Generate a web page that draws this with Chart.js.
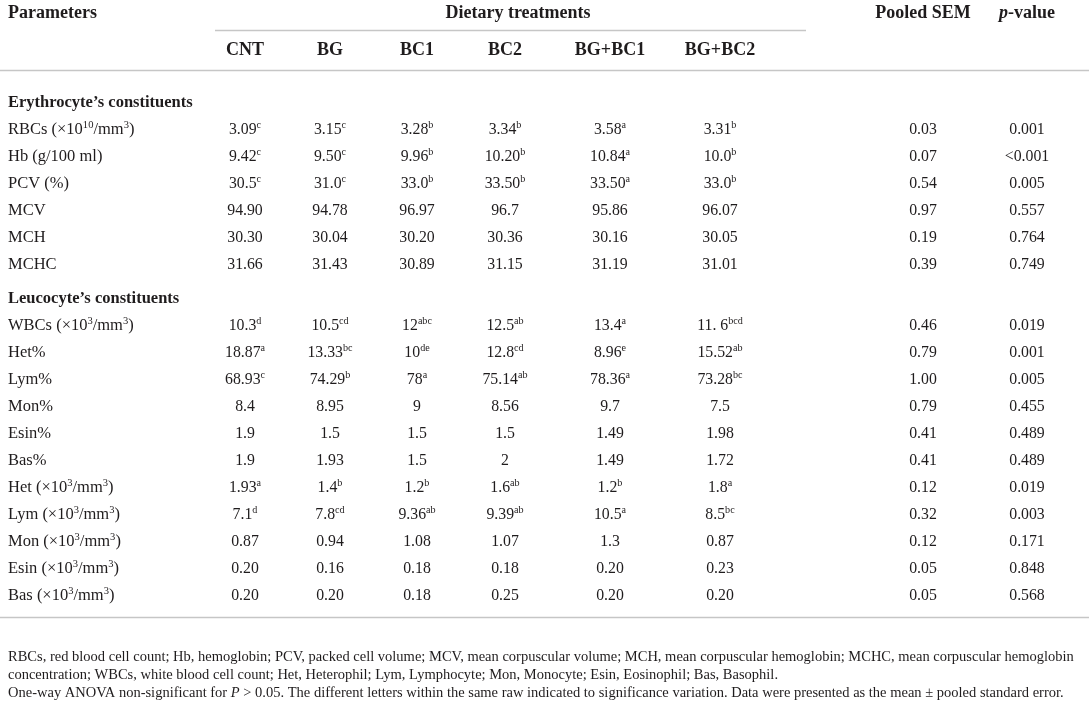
<!DOCTYPE html>
<html>
<head>
<meta charset="utf-8">
<script src="https://cdn.jsdelivr.net/npm/chart.js@4.4.1/dist/chart.umd.min.js"></script>
<style>
  html, body { margin: 0; padding: 0; background: #fff; }
  #wrap { width: 1089px; height: 710px; }
</style>
</head>
<body>
<div id="wrap"><canvas id="myChart" width="1089" height="710"></canvas></div>
<script>
// column headers of the table
const treatments = ["CNT", "BG", "BC1", "BC2", "BG+BC1", "BG+BC2"];
const sectionNames = ["Erythrocyte’s constituents", "Leucocyte’s constituents"];

// row labels (^{..} = superscript)
const erythrocyteParams = ["RBCs (×10^{10}/mm^{3})", "Hb (g/100 ml)", "PCV (%)", "MCV", "MCH", "MCHC"];
const leucocyteParams = [
  "WBCs (×10^{3}/mm^{3})", "Het%", "Lym%", "Mon%", "Esin%", "Bas%",
  "Het (×10^{3}/mm^{3})", "Lym (×10^{3}/mm^{3})", "Mon (×10^{3}/mm^{3})",
  "Esin (×10^{3}/mm^{3})", "Bas (×10^{3}/mm^{3})"
];

// values per treatment, same order as the rows above (erythrocyte rows then leucocyte rows)
const cntValues = ["3.09", "9.42", "30.5", "94.90", "30.30", "31.66", "10.3", "18.87", "68.93", "8.4", "1.9", "1.9", "1.93", "7.1", "0.87", "0.20", "0.20"];
const cntLetters = ["c", "c", "c", "", "", "", "d", "a", "c", "", "", "", "a", "d", "", "", ""];
const bgValues = ["3.15", "9.50", "31.0", "94.78", "30.04", "31.43", "10.5", "13.33", "74.29", "8.95", "1.5", "1.93", "1.4", "7.8", "0.94", "0.16", "0.20"];
const bgLetters = ["c", "c", "c", "", "", "", "cd", "bc", "b", "", "", "", "b", "cd", "", "", ""];
const bc1Values = ["3.28", "9.96", "33.0", "96.97", "30.20", "30.89", "12", "10", "78", "9", "1.5", "1.5", "1.2", "9.36", "1.08", "0.18", "0.18"];
const bc1Letters = ["b", "b", "b", "", "", "", "abc", "de", "a", "", "", "", "b", "ab", "", "", ""];
const bc2Values = ["3.34", "10.20", "33.50", "96.7", "30.36", "31.15", "12.5", "12.8", "75.14", "8.56", "1.5", "2", "1.6", "9.39", "1.07", "0.18", "0.25"];
const bc2Letters = ["b", "b", "b", "", "", "", "ab", "cd", "ab", "", "", "", "ab", "ab", "", "", ""];
const bgbc1Values = ["3.58", "10.84", "33.50", "95.86", "30.16", "31.19", "13.4", "8.96", "78.36", "9.7", "1.49", "1.49", "1.2", "10.5", "1.3", "0.20", "0.20"];
const bgbc1Letters = ["a", "a", "a", "", "", "", "a", "e", "a", "", "", "", "b", "a", "", "", ""];
const bgbc2Values = ["3.31", "10.0", "33.0", "96.07", "30.05", "31.01", "11. 6", "15.52", "73.28", "7.5", "1.98", "1.72", "1.8", "8.5", "0.87", "0.23", "0.20"];
const bgbc2Letters = ["b", "b", "b", "", "", "", "bcd", "ab", "bc", "", "", "", "a", "bc", "", "", ""];
const pooledSem = ["0.03", "0.07", "0.54", "0.97", "0.19", "0.39", "0.46", "0.79", "1.00", "0.79", "0.41", "0.41", "0.12", "0.32", "0.12", "0.05", "0.05"];
const pValues = ["0.001", "<0.001", "0.005", "0.557", "0.764", "0.749", "0.019", "0.001", "0.005", "0.455", "0.489", "0.489", "0.019", "0.003", "0.171", "0.848", "0.568"];

const footnotes = [
  "RBCs, red blood cell count; Hb, hemoglobin; PCV, packed cell volume; MCV, mean corpuscular volume; MCH, mean corpuscular hemoglobin; MCHC, mean corpuscular hemoglobin",
  "concentration; WBCs, white blood cell count; Het, Heterophil; Lym, Lymphocyte; Mon, Monocyte; Esin, Eosinophil; Bas, Basophil.",
  "One-way ANOVA non-significant for _{P} > 0.05. The different letters within the same raw indicated to significance variation. Data were presented as the mean ± pooled standard error."
];

// ---- layout (x in canvas px, y in row units) ----
const FONT = "'Liberation Serif', 'DejaVu Serif', serif";
const TEXT = "#1f1c1d";
const RULE = "#c6c6c6";
const labelX = 8;
const colX = [245, 330, 417, 505, 610, 720, 923, 1027];
const rowTop = 102, rowStep = 27;   // first body row and spacing in px
const sectionGap = 0.25;            // extra space before the second section
const headRow1 = -3.33, headRow2 = -1.96;
const subRuleY = -2.67, headRuleY = -1.19, footRuleY = 19.07;
const footRows = [20.52, 21.19, 21.86];
const headSize = 18, labelSize = 16.5, valueSize = 15.8;

// build body rows: section header then its parameters
const rows = [];
let pos = 0;
[erythrocyteParams, leucocyteParams].forEach((params, s) => {
  if (s > 0) pos += sectionGap;
  rows.push({ kind: "section", text: sectionNames[s], y: pos });
  pos += 1;
  params.forEach((p) => {
    rows.push({ kind: "param", text: p, y: pos });
    pos += 1;
  });
});
const paramRows = rows.filter((r) => r.kind === "param");

const valueCols = [
  [cntValues, cntLetters], [bgValues, bgLetters], [bc1Values, bc1Letters],
  [bc2Values, bc2Letters], [bgbc1Values, bgbc1Letters], [bgbc2Values, bgbc2Letters],
  [pooledSem, null], [pValues, null]
];

// parse "^{x}" (superscript) and "_{x}" (italic) markup
function parse(str) {
  const parts = [];
  const re = /([\^_])\{([^}]*)\}/g;
  let last = 0, m;
  while ((m = re.exec(str))) {
    if (m.index > last) parts.push({ t: str.slice(last, m.index) });
    parts.push(m[1] === "^" ? { t: m[2], sup: true } : { t: m[2], it: true });
    last = re.lastIndex;
  }
  if (last < str.length) parts.push({ t: str.slice(last) });
  return parts;
}

function fontFor(part, size, weight) {
  const s = part.sup ? size * 0.64 : size;
  return (part.it ? "italic " : "") + weight + " " + s + "px " + FONT;
}

function drawRich(ctx, str, x, y, align, size, weight) {
  const parts = parse(str);
  let w = 0;
  parts.forEach((p) => {
    ctx.font = fontFor(p, size, weight);
    p.w = ctx.measureText(p.t).width;
    w += p.w;
  });
  let cx = align === "center" ? x - w / 2 : x;
  ctx.textAlign = "left";
  ctx.textBaseline = "alphabetic";
  const base = y + size * 0.33;
  parts.forEach((p) => {
    ctx.font = fontFor(p, size, weight);
    ctx.fillText(p.t, cx, p.sup ? base - size * 0.4 : base);
    cx += p.w;
  });
}

// one invisible point dataset per column, the plugin writes the cell text at each point
const datasets = [];
datasets.push({
  label: "labels",
  data: rows.map((r) => ({ x: labelX, y: r.y })),
  cells: rows.map((r) => r.text),
  weights: rows.map((r) => (r.kind === "section" ? "bold" : "normal")),
  align: "left"
});
valueCols.forEach(([vals, letters], c) => {
  datasets.push({
    label: "col" + c,
    data: paramRows.map((r) => ({ x: colX[c], y: r.y })),
    cells: vals.map((v, i) => (letters && letters[i] ? v + "^{" + letters[i] + "}" : v)),
    align: "center"
  });
});

const tablePlugin = {
  id: "tableText",
  afterDatasetsDraw(chart) {
    const ctx = chart.ctx;
    const xs = chart.scales.x, ys = chart.scales.y;
    ctx.save();
    ctx.fillStyle = TEXT;

    // rules
    ctx.strokeStyle = RULE;
    ctx.lineWidth = 1.5;
    const rule = (x1, x2, yv) => {
      const py = Math.round(ys.getPixelForValue(yv)) + 0.5;
      ctx.beginPath();
      ctx.moveTo(xs.getPixelForValue(x1), py);
      ctx.lineTo(xs.getPixelForValue(x2), py);
      ctx.stroke();
    };
    rule(215, 806, subRuleY);
    rule(0, 1089, headRuleY);
    rule(0, 1089, footRuleY);

    // header
    const h1 = ys.getPixelForValue(headRow1), h2 = ys.getPixelForValue(headRow2);
    drawRich(ctx, "Parameters", xs.getPixelForValue(labelX), h1, "left", headSize, "bold");
    drawRich(ctx, "Dietary treatments", xs.getPixelForValue(518), h1, "center", headSize, "bold");
    drawRich(ctx, "Pooled SEM", xs.getPixelForValue(colX[6]), h1, "center", headSize, "bold");
    drawRich(ctx, "_{p}-value", xs.getPixelForValue(colX[7]), h1, "center", headSize, "bold");
    treatments.forEach((t, i) => {
      drawRich(ctx, t, xs.getPixelForValue(colX[i]), h2, "center", headSize, "bold");
    });

    // body cells, placed at each dataset point
    chart.data.datasets.forEach((ds, i) => {
      const meta = chart.getDatasetMeta(i);
      meta.data.forEach((pt, j) => {
        const w = ds.weights ? ds.weights[j] : "normal";
        const size = ds.align === "left" ? labelSize : valueSize;
        drawRich(ctx, ds.cells[j], pt.x, pt.y, ds.align, size, w);
      });
    });

    // footnotes, sized so the first line fills the width like in the source
    ctx.font = "normal 15px " + FONT;
    const fsize = 15 * 1067 / ctx.measureText(footnotes[0]).width;
    footnotes.forEach((f, i) => {
      drawRich(ctx, f, xs.getPixelForValue(labelX), ys.getPixelForValue(footRows[i]), "left", fsize, "normal");
    });
    ctx.restore();
  }
};

const ctx = document.getElementById("myChart").getContext("2d");
new Chart(ctx, {
  type: "scatter",
  data: { datasets: datasets },
  options: {
    responsive: false,
    animation: false,
    devicePixelRatio: 1,
    layout: { padding: 0 },
    elements: { point: { radius: 0, hoverRadius: 0 } },
    plugins: { legend: { display: false }, tooltip: { enabled: false } },
    scales: {
      x: { type: "linear", min: 0, max: 1089, display: false },
      y: { type: "linear", reverse: true, min: -rowTop / rowStep, max: (710 - rowTop) / rowStep, display: false }
    }
  },
  plugins: [tablePlugin]
});
</script>
</body>
</html>
